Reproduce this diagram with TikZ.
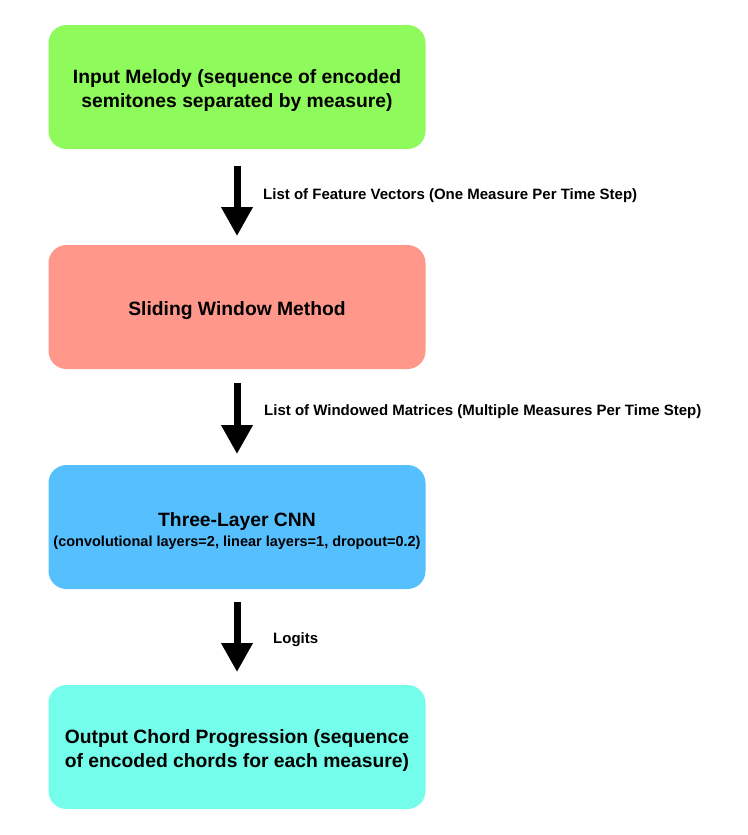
\documentclass[tikz,border=0pt]{standalone}
\usepackage{fontspec}
\setmainfont{Liberation Sans}
\usetikzlibrary{arrows.meta}
\definecolor{cgreen}{HTML}{8EFA5B}
\definecolor{csalmon}{HTML}{FF978B}
\definecolor{cblue}{HTML}{56BFFE}
\definecolor{ccyan}{HTML}{74FDEA}
\newcommand{\tpstrut}{\rule{0pt}{21.5pt}}
\tikzset{
  box/.style={rounded corners=18pt, minimum width=377pt, minimum height=124pt, inner sep=0pt, align=center, font=\fontsize{19.3}{24}\selectfont\bfseries},
  flow/.style={-{Triangle[width=30pt,length=29pt]}, line width=7pt, black},
  lbl/.style={anchor=west, font=\fontsize{15}{18}\selectfont\bfseries, inner sep=0pt}
}
\begin{document}
\begin{tikzpicture}[x=1pt,y=-1pt]
\useasboundingbox (0,0) rectangle (747,835);
\node[box, fill=cgreen] (b1) at (237,87) {\tpstrut Input Melody (sequence of encoded\\semitones separated by measure)};
\node[box, fill=csalmon] (b2) at (237,307) {\tpstrut Sliding Window Method};
\node[box, fill=cblue] (b3) at (237,527) {\tpstrut Three-Layer CNN\\[-4pt]\fontsize{14.5}{17}\selectfont (convolutional layers=2, linear layers=1, dropout=0.2)};
\node[box, fill=ccyan] (b4) at (237,747) {\tpstrut Output Chord Progression (sequence\\of encoded chords for each measure)};
\coordinate (a1s) at (237,166); \coordinate (a1e) at (237,236);
\coordinate (a2s) at (237,383); \coordinate (a2e) at (237,454);
\coordinate (a3s) at (237,602); \coordinate (a3e) at (237,672);
\draw[flow] (a1s) -- (a1e);
\draw[flow] (a2s) -- (a2e);
\draw[flow] (a3s) -- (a3e);
\node[lbl] (l1) at (263,196) {List of Feature Vectors (One Measure Per Time Step)};
\node[lbl] (l2) at (264,412) {List of Windowed Matrices (Multiple Measures Per Time Step)};
\node[lbl] (l3) at (273,640) {Logits};
\end{tikzpicture}
\end{document}
